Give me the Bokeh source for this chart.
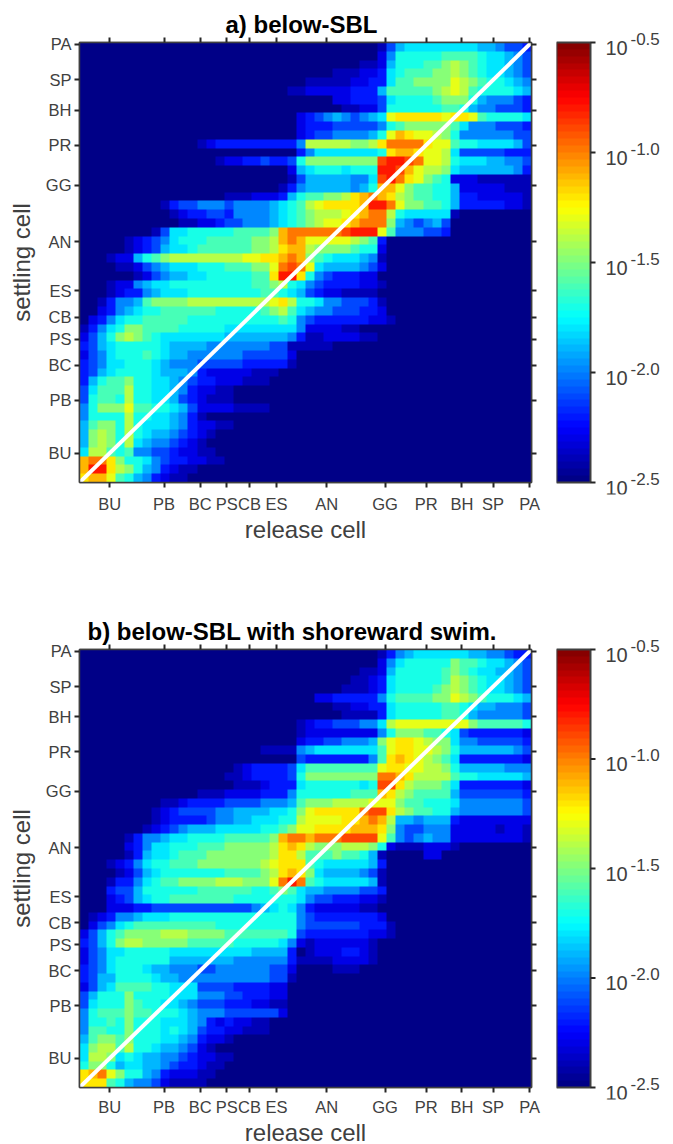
import numpy as np
from bokeh.core.properties import value
from bokeh.embed import file_html
from bokeh.layouts import column, row
from bokeh.models import FixedTicker, LinearAxis, LinearColorMapper, Range1d, Title
from bokeh.plotting import figure
from bokeh.resources import INLINE

# Cell labels along both axes and their cell numbers
cell_labels = ["BU", "PB", "BC", "PS", "CB", "ES", "AN", "GG", "PR", "BH", "SP", "PA"]
cell_ticks = [6.7, 18.7, 26.7, 32.6, 37.6, 43.6, 54.7, 67.6, 76.7, 84.6, 91.5, 99.6]
bar_ticks = [-2.5, -2.0, -1.5, -1.0, -0.5]
bar_base = ["10", "10", "10", "10", "10"]
bar_texts = ["-2.5", "-2.0", "-1.5", "-1.0", "-0.5"]

# Heat map levels, top row first. Each level is a base-36 digit
# meaning log10(value) = -2.5 + 0.1 * digit. A row starts at its start column (50 columns)
# and everything outside it is the lowest level.
a_starts = [33, 33, 31, 28, 25, 23, 28, 29, 24, 24, 24, 13, 24, 15, 23, 23, 22, 16, 9, 10,
            11, 8, 5, 5, 3, 4, 6, 3, 3, 2, 2, 1, 0, 0, 0, 0, 0, 0, 0, 0,
            0, 0, 0, 0, 0, 0, 0, 0, 0, 0]
a_rows = [
    "14677777777665443",
    "25888889999877654",
    "112688899aba9877654",
    "11122378999aaba9877654",
    "111112233799aaaacba988765",
    "1122222333699999abcb9888876",
    "223334788889aaa8655543",
    "112248888889986554443",
    "2345654567cdddddcddc988887",
    "233344444589aaaaa975554443",
    "2344555568cedccba855555544",
    "123333333335bbbbbaabdffffdcc988777764",
    "3577777778deedccb744444333",
    "1223343348aaaaaaaaghhgfccb877766554",
    "2678887888hhgecbba766666653",
    "1466666557ghfdca98222111111",
    "135" + "66666568" + "eeca99886" + "22222111",
    "1112223" + "68" + "99aab" + "def" + "edba99886" + "33222221",
    "1" + "3445554555" + "567" + "89" + "bcddd" + "deh" + "hfcaa9986" + "33333221",
    "1" + "233443555" + "567" + "89" + "abbbc" + "def" + "fb8777771",
    "11" + "2234455" + "5678" + "9" + "abccd" + "eff" + "fa654564",
    "14" + "7788888999" + "9ae" + "ffffff" + "g" + "hhh" + "c9555443",
    "1234578889" + "9999a" + "abefe" + "ccccc" + "ba9" + "3",
    "1234677899" + "9999a" + "abdee" + "baaaa" + "988" + "2",
    "122" + "689a" + "bbbbbbbb" + "cc" + "ddefe" + "a98777" + "65" + "1",
    "1124567778" + "88999a" + "acfgf" + "c7666" + "654" + "2",
    "12456677888889" + "9dhhd" + "85433" + "322",
    "1225677" + "888888" + "8889" + "9ab87" + "54333" + "3221",
    "1233567" + "7788888888" + "99876" + "43221" + "111",
    "135569" + "aaaa" + "bbbbbbbb" + "bcdb8" + "87554" + "4431",
    "235678" + "8999999" + "88888" + "9ab97" + "65544" + "4332",
    "23578899999" + "88888888" + "88985" + "43333" + "33221",
    "13578aa999988888" + "7777" + "77775" + "22221" + "1",
    "2468aba987" + "777777" + "6666" + "66653" + "11222" + "211",
    "3467888887" + "6666555555" + "54411" + "111",
    "2457888987" + "6655555544" + "4442",
    "3457788876" + "5554444433" + "3331",
    "3467888876" + "6653222221" + "11",
    "36899a8877" + "6543322211" + "1",
    "47999b8877" + "6532211",
    "48998b8877" + "6432111",
    "58aaac9988" + "76422221111",
    "58888b8877" + "6531",
    "69aa8b8777" + "6532211",
    "6aba8b8766" + "54321",
    "6aba8b7655" + "4321",
    "7bb9895544" + "32211",
    "effda88754" + "332211",
    "ehhdba8653" + "211",
    "deec986532" + "11",
]

b_starts = [33, 33, 31, 30, 29, 26, 28, 29, 24, 24, 24, 20, 24, 17, 16, 17, 13, 9, 8, 8,
            7, 5, 5, 5, 3, 4, 3, 3, 3, 3, 1, 1, 0, 0, 0, 0, 0, 0, 0, 0,
            0, 0, 0, 0, 0, 0, 0, 0, 0, 0]
b_rows = [
    "13567777776655433",
    "25788888a99877654",
    "11" + "26888889a98776654",
    "112" + "37888889ba9877654",
    "1112" + "3788889aba9877654",
    "2233333" + "589999aacba988876",
    "11223" + "37888889987665554",
    "1111" + "37888889986555554",
    "123344455" + "7bcccccccca999998",
    "122222222" + "58aaa998743333332",
    "233445556" + "acddcbaa755444443",
    "1111" + "567777777" + "9cddccba866666654",
    "433333335" + "9dedcba9733333332",
    "12" + "3333" + "47" + "99999999" + "cddccbba866666555",
    "11" + "23333" + "4" + "8" + "aaaaaaaa" + "ffedbbbb988777776",
    "111" + "2333" + "7" + "88888878" + "ggdbaaa9733333332",
    "111" + "2222" + "3335" + "8" + "88888999" + "edba9999644444443",
    "11233334444" + "5556" + "9" + "aaabbbbc" + "cca998887" + "55555554",
    "123444455666" + "6778" + "a" + "cdddd" + "dfg" + "gdba99886" + "55555554",
    "123333455667" + "7788" + "b" + "cccc" + "ddef" + "eb6656663" + "22222222",
    "12345666" + "77777" + "889a" + "c" + "cdddd" + "eee" + "da5445552" + "22221221",
    "1355677888" + "89999" + "9aeff" + "efffg" + "ggg" + "c95456552" + "22222221",
    "2357788899" + "9aaaa" + "abded" + "baaab" + "bba" + "821112221",
    "136778999a" + "aaaaa" + "abddb" + "999a9" + "986" + "1" + "0000" + "22",
    "1235788" + "999aaaaaaa" + "bcddd" + "98777" + "7763",
    "124678" + "8888889999" + "abded" + "a7666" + "6541",
    "1335789" + "9aaaabbbaa" + "acfhf" + "98777" + "7761",
    "3446888" + "8889999998" + "89a97" + "66555" + "5443",
    "2346788" + "9999999888" + "88887" + "54433" + "3221",
    "2223344" + "4444444445" + "67875" + "32222" + "211",
    "123556777" + "8888888888" + "88885" + "43333" + "3332",
    "245789999" + "9999988888" + "88885" + "44444" + "43331",
    "24689aaaab" + "bbaaaa9999" + "99984" + "33333" + "33221",
    "3468abbaaa" + "aa99999888" + "88752" + "12222" + "221",
    "2457788888" + "7777777776" + "6663" + "0" + "12223" + "321",
    "2457888888" + "6666666555" + "55531" + "11122" + "221",
    "3457888766" + "5554455555" + "5442" + "0000" + "111",
    "3466888876" + "6555555555" + "5441",
    "2467999988" + "7774444333" + "322",
    "46888a8888" + "7775554433" + "322",
    "47888a9887" + "7654443332" + "211",
    "58999a9988" + "8765554444" + "442",
    "58898a8887" + "7765323221" + "1",
    "59988a8887" + "8764332211" + "1",
    "69aa9a8887" + "7653221",
    "7abb9b8876" + "65421",
    "7bba787665" + "5432211",
    "8aa8677665" + "433211",
    "defca88653" + "22211",
    "ddd9865542" + "1111",
]

title_a = "a) below-SBL"
title_b = "b) below-SBL with shoreward swim."
x_title = "release cell"
y_title = "settling cell"

FONT = "Liberation Sans"
INK = "#404040"
LOW, HIGH = -2.5, -0.5


def jet(n=64):
    out = []
    for f in (np.arange(n) + 0.5) / n:
        r = np.clip(1.5 - abs(4 * f - 3), 0, 1)
        g = np.clip(1.5 - abs(4 * f - 2), 0, 1)
        b = np.clip(1.5 - abs(4 * f - 1), 0, 1)
        out.append("#%02x%02x%02x" % (int(r * 255), int(g * 255), int(b * 255)))
    return out


PALETTE = jet()


def grid(starts, rows):
    m = np.full((len(rows), 50), LOW)
    for i, (s, t) in enumerate(zip(starts, rows)):
        for j, ch in enumerate(t):
            if s + j < 50:
                m[i, s + j] = LOW + 0.1 * int(ch, 36)
        if s + len(t) > 50:
            print("row too long", i, s + len(t))
    return m[::-1]


def style_axis(ax, labels):
    ax.ticker = FixedTicker(ticks=cell_ticks)
    ax.major_label_overrides = {t: s for t, s in zip(cell_ticks, labels)}
    ax.major_tick_in = 0
    ax.major_tick_out = 5
    ax.major_tick_line_width = 2
    ax.major_tick_line_color = "#262626"
    ax.minor_tick_line_color = None
    ax.axis_line_color = INK
    ax.axis_line_width = 1.5
    ax.major_label_text_font = FONT
    ax.major_label_text_font_size = "16.5px"
    ax.major_label_text_color = INK
    ax.axis_label_text_font = FONT
    ax.axis_label_text_font_size = "24px"
    ax.axis_label_text_font_style = "normal"
    ax.axis_label_text_color = INK


def heat(starts, rows, title, offset, frame_h, bottom, tick_standoff, label_standoff):
    p = figure(frame_width=452, frame_height=frame_h, min_border_left=79, min_border_right=15,
               min_border_top=42, min_border_bottom=bottom,
               x_range=Range1d(0, 100), y_range=Range1d(0, 100),
               x_axis_type=None, y_axis_type=None,
               output_backend="svg", toolbar_location=None)
    mapper = LinearColorMapper(palette=PALETTE, low=LOW, high=HIGH)
    p.image(image=[grid(starts, rows)], x=0, y=0, dw=100, dh=100, color_mapper=mapper)
    p.line([0, 100], [0, 100], line_color="white", line_width=4)
    p.grid.visible = False
    p.outline_line_color = INK
    p.outline_line_width = 1.5

    left = LinearAxis(axis_label=y_title)
    style_axis(left, cell_labels)
    left.major_label_standoff = 3
    left.axis_label_standoff = 8
    p.add_layout(left, "left")

    bot = LinearAxis(axis_label=x_title)
    style_axis(bot, cell_labels)
    bot.major_label_standoff = tick_standoff
    bot.axis_label_standoff = label_standoff
    p.add_layout(bot, "below")

    for side in ("above", "right"):
        ax = LinearAxis()
        style_axis(ax, [""] * len(cell_labels))
        ax.major_label_text_font_size = "1px"
        ax.major_label_standoff = 0
        p.add_layout(ax, side)

    p.add_layout(Title(text=title, text_font=FONT, text_font_size="24px", text_font_style="bold",
                       text_color="black", align="left", offset=offset, standoff=0), "above")
    return p


def bar(frame_h, bottom):
    # The frame is wider and taller than the colour bar so that its labels can sit inside it.
    pad = 12
    unit = (HIGH - LOW) / frame_h
    width = 114
    p = figure(frame_width=width, frame_height=frame_h + 2 * pad,
               min_border_left=10, min_border_right=0,
               min_border_top=42 - pad, min_border_bottom=bottom - pad,
               x_range=Range1d(0, width), y_range=Range1d(LOW - pad * unit, HIGH + pad * unit),
               x_axis_type=None, y_axis_type=None,
               output_backend="svg", toolbar_location=None)
    mapper = LinearColorMapper(palette=PALETTE, low=LOW, high=HIGH)
    ramp = np.linspace(LOW, HIGH, 64).reshape(64, 1)
    p.image(image=[ramp], x=0, y=LOW, dw=34, dh=HIGH - LOW, color_mapper=mapper)
    p.quad(left=[0], right=[34], bottom=[LOW], top=[HIGH], fill_color=None,
           line_color=INK, line_width=2)
    p.segment(x0=[34] * 5, x1=[39] * 5, y0=bar_ticks, y1=bar_ticks, line_color="#262626", line_width=2)
    p.text(x=[49] * 5, y=bar_ticks, text=bar_base, y_offset=5, text_baseline="middle",
           text_font=value(FONT), text_font_size="20px", text_color=INK)
    p.text(x=[74] * 5, y=bar_ticks, text=bar_texts, y_offset=-4, text_baseline="middle",
           text_font=value(FONT), text_font_size="17px", text_color=INK)
    p.grid.visible = False
    p.outline_line_color = None
    return p


top = row(heat(a_starts, a_rows, title_a, 146, 440, 125, 7, 0), column(bar(440, 125)))
low = row(heat(b_starts, b_rows, title_b, 8, 438, 57, 5, 0), column(bar(438, 57)))
page = column(top, low)
open("out.html", "w").write(file_html(page, INLINE))
